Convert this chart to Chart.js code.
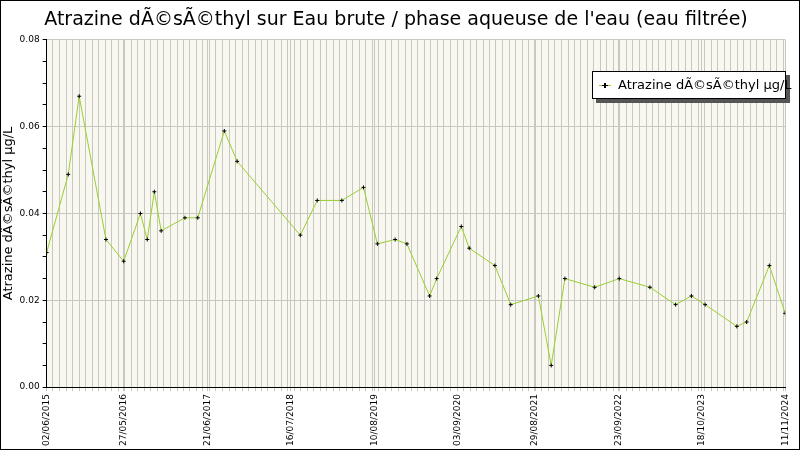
<!DOCTYPE html><html><head><style>body{margin:0}#w{width:798px;height:448px;border:1px solid #000;position:relative}</style>
<script src="https://cdn.jsdelivr.net/npm/chart.js@4"></script></head><body><div id="w"><canvas id="c" width="798" height="448"></canvas></div>
<script>
const dates=["2015-06-02","2015-09-11","2015-11-01","2016-03-05","2016-05-27","2016-08-13","2016-09-14","2016-10-17","2016-11-18","2017-03-09","2017-05-08","2017-09-09","2017-11-08","2018-08-30","2018-11-17","2019-03-12","2019-06-21","2019-08-25","2019-11-16","2020-01-10","2020-04-25","2020-05-28","2020-09-20","2020-10-27","2021-02-24","2021-05-09","2021-09-15","2021-11-14","2022-01-17","2022-06-05","2022-09-28","2023-02-18","2023-06-18","2023-08-31","2023-11-03","2024-03-30","2024-05-15","2024-08-29","2024-11-11"];
const values=[0.031,0.049,0.067,0.034,0.029,0.040,0.034,0.045,0.036,0.039,0.039,0.059,0.052,0.035,0.043,0.043,0.046,0.033,0.034,0.033,0.021,0.025,0.037,0.032,0.028,0.019,0.021,0.005,0.025,0.023,0.025,0.023,0.019,0.021,0.019,0.014,0.015,0.028,0.017];
const tickLabels=["02/06/2015","27/05/2016","21/06/2017","16/07/2018","10/08/2019","03/09/2020","29/08/2021","23/09/2022","18/10/2023","11/11/2024"];
const T=s=>Date.parse(s+"T00:00:00Z");
const labelTs=tickLabels.map(l=>{const p=l.split("/");return Date.UTC(+p[2],+p[1]-1,+p[0]);});
const fmt=v=>{const d=new Date(v);return String(d.getUTCDate()).padStart(2,'0')+'/'+String(d.getUTCMonth()+1).padStart(2,'0')+'/'+d.getUTCFullYear();};
const bg={id:'bg',beforeDraw(c){const a=c.chartArea,x=c.ctx;x.save();x.fillStyle='#f8f8f0';x.fillRect(a.left,a.top,a.right-a.left,a.bottom-a.top);x.restore();},
afterDraw(c){const x=c.ctx;x.save();x.fillStyle='#555';x.fillRect(595,74,194,28);x.fillStyle='#fff';x.fillRect(591,70,194,28);x.strokeStyle='#000';x.lineWidth=1;x.strokeRect(591.5,70.5,193,27);
x.strokeStyle='#9acd32';x.beginPath();x.moveTo(598,84.5);x.lineTo(610,84.5);x.stroke();x.fillStyle='#000';x.fillRect(603,82,2,5);x.fillRect(601,84,6,1);
x.font='13px "DejaVu Sans"';x.textBaseline='middle';x.fillText('Atrazine dÃ©sÃ©thyl µg/L',617,85);x.restore();}};
new Chart(document.getElementById('c'),{type:'line',data:{datasets:[{data:dates.map((d,i)=>({x:T(d),y:values[i]})),borderColor:'#9acd32',borderWidth:1,pointStyle:'cross',pointRadius:2,pointBorderColor:'#000',pointBorderWidth:1,tension:0}]},
plugins:[bg],
options:{responsive:false,animation:false,devicePixelRatio:1,layout:{padding:{left:0,right:8,top:0,bottom:0}},
plugins:{legend:{display:false},tooltip:{enabled:false},title:{display:true,text:"Atrazine dÃ©sÃ©thyl sur Eau brute / phase aqueuse de l'eau (eau filtrée)",font:{family:'DejaVu Sans',size:19,weight:'normal'},color:'#000',padding:{top:8,bottom:8}}},
scales:{x:{type:'linear',min:T(dates[0]),max:T(dates[dates.length-1]),
afterBuildTicks(ax){const t=[];let y=2015,m=6;while(true){const v=Date.UTC(y,m,1);if(v>=ax.max)break;t.push({value:v});m++;if(m>11){m=0;y++;}}labelTs.forEach(v=>t.push({value:v}));t.sort((a,b)=>a.value-b.value);ax.ticks=t;},
ticks:{autoSkip:false,maxRotation:90,minRotation:90,font:{family:'DejaVu Sans',size:9},color:'#000',callback:v=>labelTs.includes(v)?fmt(v):''},
grid:{color:'#c8c8c0',tickLength:4},border:{color:'#000'}},
y:{min:0,max:0.08,ticks:{stepSize:0.005,font:{family:'DejaVu Sans',size:9},color:'#000',callback:v=>Math.abs(v/0.02-Math.round(v/0.02))<1e-6?v.toFixed(2):''},
grid:{color:c=>Math.abs(c.tick.value/0.02-Math.round(c.tick.value/0.02))<1e-6?'#c8c8c0':'rgba(0,0,0,0)',tickColor:'#000',tickLength:4},border:{color:'#000'},
title:{display:true,text:'Atrazine dÃ©sÃ©thyl µg/L',font:{family:'DejaVu Sans',size:13},color:'#000',padding:0}}}}});
</script></body></html>
